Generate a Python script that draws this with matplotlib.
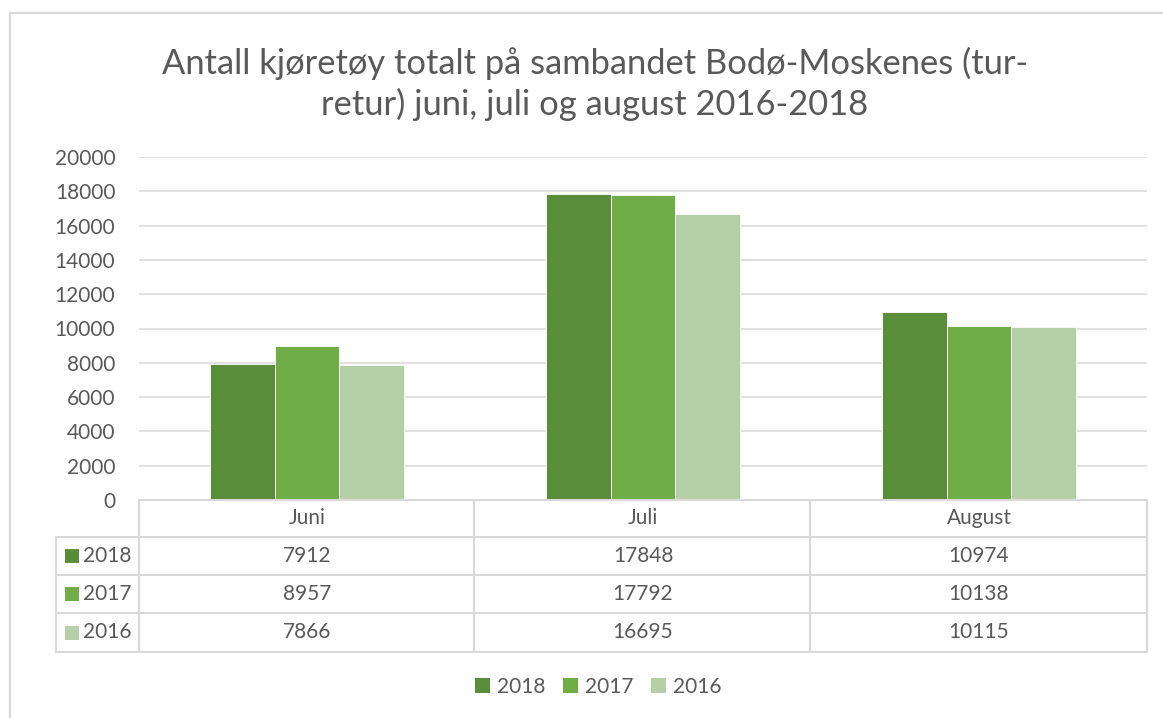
import matplotlib
matplotlib.use("Agg")
import matplotlib.pyplot as plt
from matplotlib.patches import Rectangle
from matplotlib.lines import Line2D
import matplotlib.transforms as mtransforms

# ---- data ----
categories = ["Juni", "Juli", "August"]
series_names = ["2018", "2017", "2016"]
values_2018 = [7912, 17848, 10974]
values_2017 = [8957, 17792, 10138]
values_2016 = [7866, 16695, 10115]
yticks = [0, 2000, 4000, 6000, 8000, 10000, 12000, 14000, 16000, 18000, 20000]
title = "Antall kjøretøy totalt på sambandet Bodø-Moskenes (tur-\nretur) juni, juli og august 2016-2018"

series_values = [values_2018, values_2017, values_2016]
colors = ["#5A8D3A", "#70AD47", "#B5CFA6"]
txt = "#595959"
grid = "#D9D9D9"
FONT = "Lato"
plt.rcParams["font.family"] = [FONT, "DejaVu Sans"]

W, H = 1163, 718
fig = plt.figure(figsize=(W / 100, H / 100), dpi=100)

def fx(px):
    return px / W

def fy(py):
    return 1 - py / H

# axes geometry in pixels
L, R, T, B = 139, 1147, 157, 500
ax = fig.add_axes([fx(L), fy(B), fx(R) - fx(L), fy(T) - fy(B)])
ax.set_xlim(-0.5, len(categories) - 0.5)
ax.set_ylim(0, 20000)

bw = 0.1925
for i, (name, vals, c) in enumerate(zip(series_names, series_values, colors)):
    xs = [k + (i - 1) * bw for k in range(len(categories))]
    ax.bar(xs, vals, width=bw, color=c, edgecolor="white", linewidth=0.6, zorder=3, label=name)

ax.set_yticks(yticks)
ax.set_yticklabels([str(v) for v in yticks])
ax.tick_params(axis="y", length=0, pad=17, labelsize=15, labelcolor=txt)
ax.set_xticks([])
ax.yaxis.grid(True, color=grid, linewidth=1.1, zorder=0)
for s in ax.spines.values():
    s.set_visible(False)

# ---- data table ----
lc = dict(color=grid, linewidth=1.5, transform=fig.transFigure, clip_on=False)
rows_y = [500, 537, 575, 613, 652]
col_x = [56, 139, 474, 810, 1147]
fig.add_artist(Line2D([fx(139), fx(1147)], [fy(500), fy(500)], **lc))
for yy in rows_y[1:]:
    fig.add_artist(Line2D([fx(56), fx(1147)], [fy(yy), fy(yy)], **lc))
fig.add_artist(Line2D([fx(56), fx(56)], [fy(537), fy(652)], **lc))
for xx in col_x[1:]:
    fig.add_artist(Line2D([fx(xx), fx(xx)], [fy(500), fy(652)], **lc))

blend = mtransforms.blended_transform_factory(ax.transData, fig.transFigure)
hdr_y = (500 + 537) / 2
for k, cat in enumerate(categories):
    ax.text(k, fy(hdr_y), cat, transform=blend, ha="center", va="center",
            fontsize=15, color=txt, clip_on=False)
for r, (name, vals, c) in enumerate(zip(series_names, series_values, colors)):
    cy = (rows_y[r + 1] + rows_y[r + 2]) / 2
    for k, v in enumerate(vals):
        ax.text(k, fy(cy), str(v), transform=blend, ha="center", va="center",
                fontsize=15, color=txt, clip_on=False)
    fig.add_artist(Rectangle((fx(65), fy(cy + 7)), fx(14), 14 / H,
                             facecolor=c, edgecolor="none", transform=fig.transFigure))
    fig.text(fx(83), fy(cy), name, ha="left", va="center", fontsize=15, color=txt)

# ---- legend ----
handles = [Rectangle((0, 0), 1, 1, facecolor=c, edgecolor="none") for c in colors]
fig.legend(handles, series_names, loc="center", bbox_to_anchor=(fx(598), fy(687)),
           ncol=3, frameon=False, fontsize=15, labelcolor=txt,
           handlelength=0.75, handleheight=0.75, handletextpad=0.3, columnspacing=0.85)

# ---- title ----
fig.text(fx(595), fy(84), title, ha="center", va="center", fontsize=24.8,
         color=txt, linespacing=1.3)

# ---- outer border ----
bc = dict(color=grid, linewidth=1.6, transform=fig.transFigure, clip_on=False)
fig.add_artist(Line2D([fx(10), 1], [fy(13), fy(13)], **bc))
fig.add_artist(Line2D([fx(10), fx(10)], [fy(13), 0], **bc))

fig.savefig("out.png", dpi=100, facecolor="white")
